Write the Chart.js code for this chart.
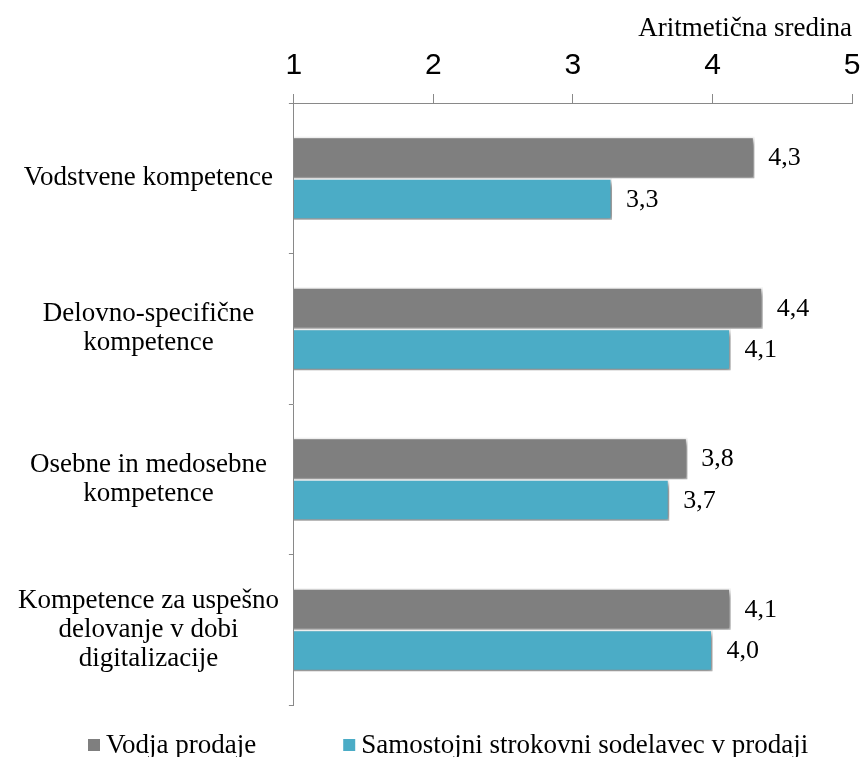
<!DOCTYPE html>
<html>
<head>
<meta charset="utf-8">
<script src="https://cdn.jsdelivr.net/npm/chart.js@4"></script>
<style>
  html, body { margin: 0; padding: 0; background: #fff; }
  #wrap { width: 863px; height: 757px; }
</style>
</head>
<body>
<div id="wrap"><canvas id="c" width="863" height="757"></canvas></div>
<script>
const categories = [
  ['Vodstvene kompetence'],
  ['Delovno-specifične', 'kompetence'],
  ['Osebne in medosebne', 'kompetence'],
  ['Kompetence za uspešno', 'delovanje v dobi', 'digitalizacije']
];
const seriesNames = ['Vodja prodaje', 'Samostojni strokovni sodelavec v prodaji'];
const vodjaProdaje = [4.30, 4.36, 3.82, 4.13];
const samostojniSodelavec = [3.28, 4.13, 3.69, 4.00];
const axisTicks = [1, 2, 3, 4, 5];
const axisTitle = 'Aritmetična sredina';

const SERIF = "'Liberation Serif', 'Times New Roman', serif";
const SANS = "'Liberation Sans', Arial, sans-serif";
const AXIS_COLOR = '#898989';

const shadowPlugin = {
  id: 'barShadow',
  beforeDatasetsDraw(chart) {
    const ctx = chart.ctx;
    ctx.save();
    ctx.shadowColor = 'rgba(0,0,0,0.5)';
    ctx.shadowBlur = 6;
    ctx.shadowOffsetX = 3;
    ctx.shadowOffsetY = 3;
  },
  afterDatasetsDraw(chart) {
    chart.ctx.restore();
  }
};

const valueLabels = {
  id: 'valueLabels',
  afterDatasetsDraw(chart) {
    const ctx = chart.ctx;
    ctx.save();
    ctx.font = '26px ' + SERIF;
    ctx.fillStyle = '#000';
    ctx.textAlign = 'left';
    ctx.textBaseline = 'middle';
    chart.data.datasets.forEach((ds, di) => {
      const meta = chart.getDatasetMeta(di);
      meta.data.forEach((el, i) => {
        const txt = ds.data[i].toFixed(1).replace('.', ',');
        ctx.fillText(txt, el.x + 14, el.y + 1);
      });
    });
    ctx.restore();
  }
};

const customLegend = {
  id: 'customLegend',
  afterDraw(chart) {
    const ctx = chart.ctx;
    ctx.save();
    ctx.font = '27px ' + SERIF;
    ctx.textBaseline = 'middle';
    ctx.textAlign = 'left';
    const y = 745;
    let x = 88;
    chart.data.datasets.forEach((ds, i) => {
      ctx.fillStyle = ds.backgroundColor;
      ctx.fillRect(x, y - 6, 12, 12);
      ctx.fillStyle = '#000';
      ctx.fillText(ds.label, x + 18, y + 1);
      x += 18 + ctx.measureText(ds.label).width + 87;
    });
    ctx.restore();
  }
};

new Chart(document.getElementById('c'), {
  type: 'bar',
  data: {
    labels: categories,
    datasets: [
      { label: seriesNames[0], data: vodjaProdaje, backgroundColor: '#7F7F7F',
        borderColor: '#FFFFFF', borderWidth: 1.5, borderSkipped: 'start',
        barPercentage: 1.0, categoryPercentage: 0.55 },
      { label: seriesNames[1], data: samostojniSodelavec, backgroundColor: '#4BACC6',
        borderColor: '#FFFFFF', borderWidth: 1.5, borderSkipped: 'start',
        barPercentage: 1.0, categoryPercentage: 0.55 }
    ]
  },
  options: {
    indexAxis: 'y',
    responsive: false,
    animation: false,
    devicePixelRatio: 1,
    layout: { padding: { left: 8, right: 0, top: 15, bottom: 52 } },
    plugins: {
      legend: { display: false },
      tooltip: { enabled: false }
    },
    scales: {
      x: {
        position: 'top',
        min: axisTicks[0],
        max: axisTicks[axisTicks.length - 1],
        afterBuildTicks(scale) { scale.ticks = axisTicks.map(v => ({ value: v })); },
        afterFit(scale) { scale.paddingRight = 11; },
        ticks: { font: { family: SANS, size: 30, lineHeight: 1.2 }, color: '#000', padding: 10 },
        grid: { drawOnChartArea: false, tickLength: 9, color: AXIS_COLOR, lineWidth: 1 },
        border: { color: AXIS_COLOR, width: 1 },
        title: { display: true, text: axisTitle, align: 'end', color: '#000',
                 font: { family: SERIF, size: 27, lineHeight: 1.0 }, padding: { top: 0, bottom: -4 } }
      },
      y: {
        position: 'left',
        ticks: { font: { family: SERIF, size: 27, lineHeight: 1.08 }, color: '#000',
                 crossAlign: 'center', padding: 10 },
        grid: { drawOnChartArea: false, tickLength: 5, color: AXIS_COLOR, offset: true },
        border: { color: AXIS_COLOR, width: 1 }
      }
    }
  },
  plugins: [shadowPlugin, valueLabels, customLegend]
});
</script>
</body>
</html>
